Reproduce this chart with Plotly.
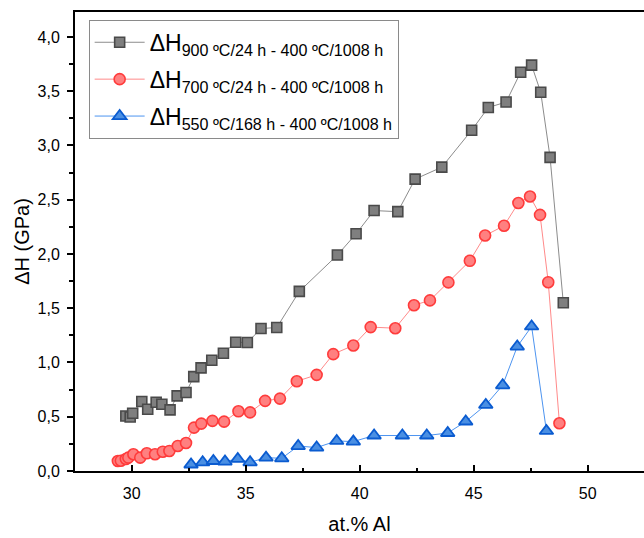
import plotly.graph_objects as go

# ---- data ----
gray_x = [29.74, 29.93, 30.04, 30.44, 30.70, 31.07, 31.32, 31.68, 31.99, 32.38, 32.72, 33.04,
          33.51, 34.02, 34.56, 35.07, 35.67, 36.36, 37.35, 39.02, 39.84, 40.63, 41.67, 42.43,
          43.60, 44.91, 45.64, 46.42, 47.06, 47.54, 47.94, 48.35, 48.93]
gray_y = [0.507, 0.498, 0.532, 0.640, 0.569, 0.633, 0.615, 0.563, 0.692, 0.723, 0.870, 0.950,
          1.021, 1.085, 1.187, 1.184, 1.313, 1.322, 1.655, 1.990, 2.186, 2.400, 2.390, 2.690,
          2.800, 3.140, 3.350, 3.400, 3.675, 3.740, 3.490, 2.890, 1.550]

red_x = [29.39, 29.52, 29.74, 29.85, 30.07, 30.37, 30.66, 31.02, 31.36, 31.65, 32.02, 32.38,
         32.73, 33.05, 33.54, 34.05, 34.68, 35.19, 35.85, 36.50, 37.24, 38.11, 38.84, 39.72,
         40.48, 41.56, 42.38, 43.08, 43.89, 44.83, 45.50, 46.33, 46.96, 47.47, 47.91, 48.27, 48.76]
red_y = [0.092, 0.095, 0.111, 0.123, 0.154, 0.123, 0.163, 0.154, 0.178, 0.185, 0.231, 0.258,
         0.400, 0.437, 0.462, 0.455, 0.550, 0.540, 0.646, 0.667, 0.827, 0.886, 1.077, 1.157,
         1.326, 1.316, 1.528, 1.572, 1.738, 1.937, 2.170, 2.260, 2.470, 2.530, 2.360, 1.740, 0.440]

blue_x = [32.60, 33.11, 33.58, 34.09, 34.65, 35.19, 35.89, 36.58, 37.30, 38.11, 38.99, 39.72,
          40.63, 41.87, 42.94, 43.86, 44.65, 45.53, 46.27, 46.91, 47.54, 48.19]
blue_y = [0.060, 0.080, 0.092, 0.087, 0.111, 0.080, 0.123, 0.117, 0.230, 0.216, 0.277, 0.271,
          0.327, 0.327, 0.327, 0.350, 0.456, 0.609, 0.790, 1.147, 1.332, 0.369]

names = [
    "ΔH<sub>900 ºC/24 h - 400 ºC/1008 h</sub>",
    "ΔH<sub>700 ºC/24 h - 400 ºC/1008 h</sub>",
    "ΔH<sub>550 ºC/168 h - 400 ºC/1008 h</sub>",
]

x_tick_vals = [30, 35, 40, 45, 50]
y_tick_vals = [0.0, 0.5, 1.0, 1.5, 2.0, 2.5, 3.0, 3.5, 4.0]

FONT = "Arial, Liberation Sans, sans-serif"

fig = go.Figure()
fig.add_trace(go.Scatter(
    x=gray_x, y=gray_y, mode="lines+markers", name=names[0], legendgroup="g1",
    line=dict(color="#8c8c8c", width=1),
    marker=dict(symbol="square", size=10, color="#7f7f7f",
                line=dict(color="#4a4a4a", width=1.6)),
))
fig.add_trace(go.Scatter(
    x=red_x, y=red_y, mode="lines+markers", name=names[1], legendgroup="g2",
    line=dict(color="#ff8a8a", width=1),
    marker=dict(symbol="circle", size=11, color="#ff8080",
                line=dict(color="#ff3b3b", width=1.6)),
))
fig.add_trace(go.Scatter(
    x=blue_x, y=blue_y, mode="lines+markers", name=names[2], legendgroup="g3",
    line=dict(color="#4d94f0", width=1),
    marker=dict(symbol="triangle-up", size=12, color="#4a8fe3",
                line=dict(color="#0a5bd0", width=1.8)),
))

fig.update_layout(
    width=644, height=538,
    margin=dict(l=75, r=0, t=12, b=67),
    paper_bgcolor="white", plot_bgcolor="white",
    separators=", ",
    font=dict(family=FONT, color="black", size=16),
    showlegend=True,
    legend=dict(
        x=0.024, y=0.983, xanchor="left", yanchor="top",
        bgcolor="white", bordercolor="#8a8a8a", borderwidth=1,
        font=dict(family=FONT, size=23, color="black"),
        itemwidth=50, tracegroupgap=4,
    ),
)

fig.update_xaxes(
    range=[27.51, 52.47],
    tickvals=x_tick_vals, ticktext=[str(v) for v in x_tick_vals],
    ticks="inside", ticklen=6, tickwidth=1.5, tickcolor="black",
    minor=dict(ticks="inside", dtick=2.5, tick0=27.5, ticklen=3, tickwidth=1.5, tickcolor="black"),
    showline=True, linecolor="black", linewidth=2, mirror=True,
    showgrid=False, zeroline=False,
    tickfont=dict(size=16), ticklabelstandoff=7,
    title=dict(text="at.% Al", font=dict(size=20), standoff=16),
)
fig.update_yaxes(
    range=[0, 4.23],
    tickvals=y_tick_vals, tickformat=".1f",
    ticks="outside", ticklen=6, tickwidth=1.5, tickcolor="black",
    minor=dict(ticks="outside", dtick=0.25, tick0=0, ticklen=4, tickwidth=1.5, tickcolor="black"),
    showline=True, linecolor="black", linewidth=2, mirror=False,
    showgrid=False, zeroline=False,
    tickfont=dict(size=16), ticklabelstandoff=4,
    title=dict(text="ΔH (GPa)", font=dict(size=20), standoff=3),
)

fig.write_html("out.html")
